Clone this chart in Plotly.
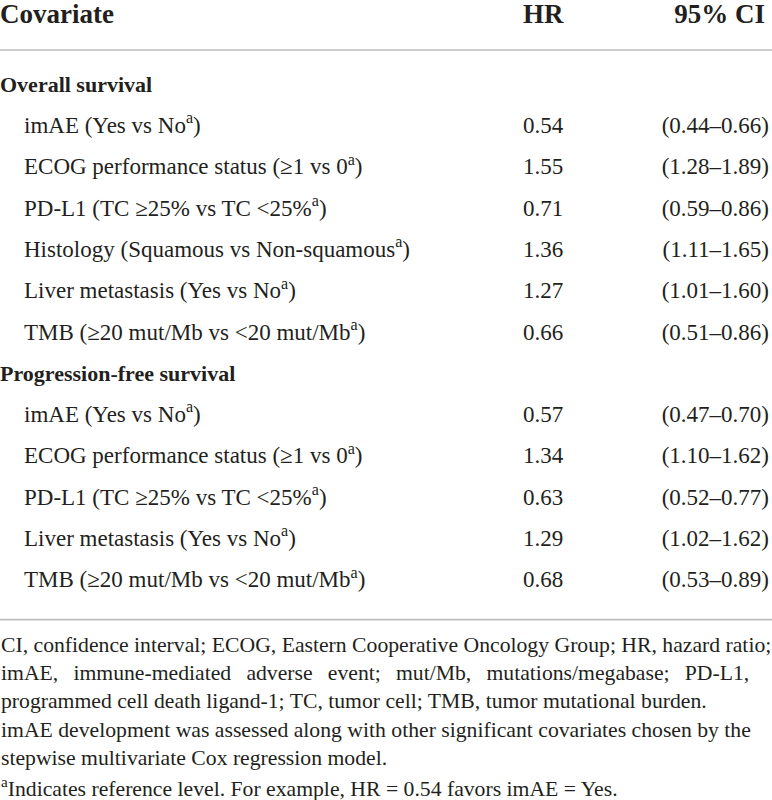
import plotly.graph_objects as go

# table content
header = ["Covariate", "HR", "95% CI"]

sections = ["Overall survival", "Progression-free survival"]

os_covariates = [
    "imAE (Yes vs No<sup>a</sup>)",
    "ECOG performance status (≥1 vs 0<sup>a</sup>)",
    "PD-L1 (TC ≥25% vs TC &lt;25%<sup>a</sup>)",
    "Histology (Squamous vs Non-squamous<sup>a</sup>)",
    "Liver metastasis (Yes vs No<sup>a</sup>)",
    "TMB (≥20 mut/Mb vs &lt;20 mut/Mb<sup>a</sup>)",
]
os_hr = ["0.54", "1.55", "0.71", "1.36", "1.27", "0.66"]
os_ci = ["(0.44–0.66)", "(1.28–1.89)", "(0.59–0.86)", "(1.11–1.65)", "(1.01–1.60)", "(0.51–0.86)"]

pfs_covariates = [
    "imAE (Yes vs No<sup>a</sup>)",
    "ECOG performance status (≥1 vs 0<sup>a</sup>)",
    "PD-L1 (TC ≥25% vs TC &lt;25%<sup>a</sup>)",
    "Liver metastasis (Yes vs No<sup>a</sup>)",
    "TMB (≥20 mut/Mb vs &lt;20 mut/Mb<sup>a</sup>)",
]
pfs_hr = ["0.57", "1.34", "0.63", "1.29", "0.68"]
pfs_ci = ["(0.47–0.70)", "(1.10–1.62)", "(0.52–0.77)", "(1.02–1.62)", "(0.53–0.89)"]

footnotes = [
    "CI, confidence interval; ECOG, Eastern Cooperative Oncology Group; HR, hazard ratio;",
    "imAE, immune-mediated adverse event; mut/Mb, mutations/megabase; PD-L1,",
    "programmed cell death ligand-1; TC, tumor cell; TMB, tumor mutational burden.",
    "imAE development was assessed along with other significant covariates chosen by the",
    "stepwise multivariate Cox regression model.",
    "<sup>a</sup>Indicates reference level. For example, HR = 0.54 favors imAE = Yes.",
]
# extra filler per word gap, a rough stand-in for the justified lines
footnote_gaps = ["", "&nbsp;\u2009", "", "", "", ""]

W, H = 772, 800
FONT = "Liberation Serif"
INK = "#231f20"
RULE = "#bdbdbd"

ROW0 = 86      # y of first section row
ROW_STEP = 41.3
INDENT = 24
HR_X = 523
CI_X = 769

# build row list: (label, hr, ci, is_section)
rows = []
for name, covs, hrs, cis in [(sections[0], os_covariates, os_hr, os_ci),
                             (sections[1], pfs_covariates, pfs_hr, pfs_ci)]:
    rows.append((name, "", "", True))
    for c, h, ci in zip(covs, hrs, cis):
        rows.append((c, h, ci, False))

ys = [ROW0 + i * ROW_STEP for i in range(len(rows))]

fig = go.Figure()


def text_col(x, y, text, pos, size, bold=False):
    if bold:
        text = ["<b>%s</b>" % t for t in text]
    fig.add_trace(go.Scatter(
        x=x, y=y, text=text, mode="text", textposition=pos,
        textfont=dict(family=FONT, size=size, color=INK),
        hoverinfo="skip", cliponaxis=False))


# section labels (bold, flush left)
sec_rows = [(y, r) for y, r in zip(ys, rows) if r[3]]
text_col([0] * len(sec_rows), [y for y, _ in sec_rows],
         [r[0] for _, r in sec_rows], "middle right", 22, bold=True)

# covariate rows
cov_rows = [(y, r) for y, r in zip(ys, rows) if not r[3]]
cy = [y for y, _ in cov_rows]
text_col([INDENT] * len(cov_rows), cy, [r[0] for _, r in cov_rows], "middle right", 23)
text_col([HR_X] * len(cov_rows), cy, [r[1] for _, r in cov_rows], "middle right", 23)
text_col([CI_X] * len(cov_rows), cy, [r[2] for _, r in cov_rows], "middle left", 23)

# header
HEAD_Y = 16
text_col([0, HR_X], [HEAD_Y, HEAD_Y], header[:2], "middle right", 27, bold=True)
text_col([CI_X - 4], [HEAD_Y], header[2:], "middle left", 27, bold=True)

# horizontal rules
rule_top = 50
rule_bot = ys[-1] + 38
for yr in [rule_top, rule_bot]:
    fig.add_trace(go.Scatter(x=[0, W], y=[yr, yr], mode="lines",
                             line=dict(color=RULE, width=1.6), hoverinfo="skip"))

# footnotes
fn_y0 = rule_bot + 25
for i, (line, gap) in enumerate(zip(footnotes, footnote_gaps)):
    if gap:
        line = line.replace(" ", " " + gap)
    fig.add_annotation(x=0, y=fn_y0 + i * 28.4, text=line, showarrow=False,
                       xanchor="left", yanchor="middle", xref="x", yref="y",
                       borderpad=0, font=dict(family=FONT, size=21.7, color=INK))

fig.update_layout(
    width=W, height=H, margin=dict(l=0, r=0, t=0, b=0),
    paper_bgcolor="white", plot_bgcolor="white", showlegend=False,
    xaxis=dict(range=[0, W], visible=False, fixedrange=True),
    yaxis=dict(range=[H, 0], visible=False, fixedrange=True),
)

fig.write_html("out.html", config={"displayModeBar": False},
               post_script="document.body.style.margin='0';")
